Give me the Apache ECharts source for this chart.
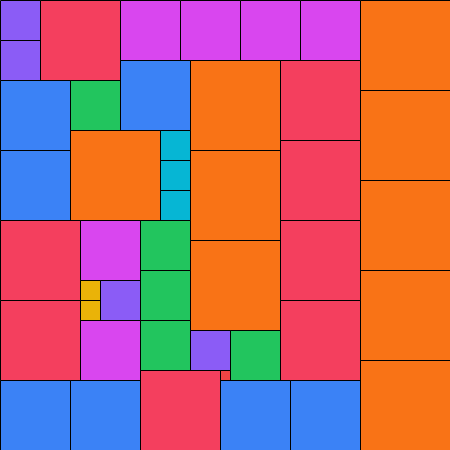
<!DOCTYPE html>
<html>
<head>
<meta charset="utf-8">
<style>html,body{margin:0;padding:0;background:#fff;}#chart{width:450px;height:450px;}</style>
<script src="https://cdn.jsdelivr.net/npm/echarts@6/dist/echarts.min.js"></script>
</head>
<body>
<div id="chart"></div>
<script>
// Square packing: each square = [left, top, side]
const squareX = [0,0,40,120,180,240,300,360, 0,70,120,190,280,360, 0,70,160,160,160,190,280,360, 0,80,140,190,280, 80,80,100,140,360, 0,80,140,190,230,280, 220, 0,70,140,220,290,360];
const squareY = [0,40,0,0,0,0,0,0, 80,80,60,60,60,90, 150,130,130,160,190,150,140,180, 220,220,220,240,220, 280,300,280,270,270, 300,320,320,330,330,300, 370, 380,380,370,380,380,360];
const squareSide = [40,40,80,60,60,60,60,90, 70,50,70,90,80,90, 70,90,30,30,30,90,80,90, 80,60,50,90,80, 20,20,40,50,90, 80,60,50,40,50,80, 10, 70,70,80,70,70,90];
const sideValues = [10,20,30,40,50,60,70,80,90];
const sideColors = ['#ef4444','#eab308','#06b6d4','#8b5cf6','#22c55e','#d946ef','#3b82f6','#f43f5e','#f97316'];

const data = squareX.map((x, i) => [x, squareY[i], squareSide[i]]);
const chart = echarts.init(document.getElementById('chart'));
chart.setOption({
  animation: false,
  grid: {left: 0, right: 0, top: 0, bottom: 0},
  xAxis: {type: 'value', min: 0, max: 450, show: false},
  yAxis: {type: 'value', min: 0, max: 450, inverse: true, show: false},
  series: [{
    type: 'custom',
    clip: false,
    data: data,
    renderItem: function (params, api) {
      const x = api.value(0), y = api.value(1), s = api.value(2);
      const p0 = api.coord([x, y]);
      const p1 = api.coord([x + s, y + s]);
      const color = sideColors[sideValues.indexOf(s)] || '#f43f5e';
      return {
        type: 'rect',
        shape: {x: p0[0] + 0.5, y: p0[1] + 0.5, width: p1[0] - p0[0], height: p1[1] - p0[1]},
        style: {fill: color, stroke: '#000', lineWidth: 1}
      };
    }
  }]
});
</script>
</body>
</html>
